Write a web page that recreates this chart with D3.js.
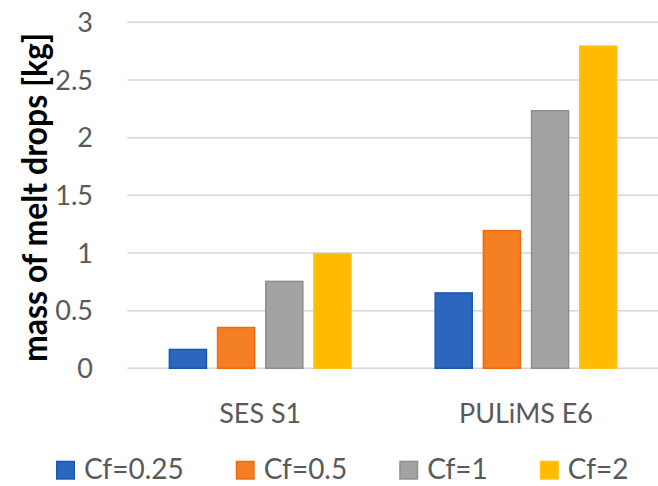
<!DOCTYPE html>
<html>
<head>
<meta charset="utf-8">
<script src="https://cdn.jsdelivr.net/npm/d3@7"></script>
<style>
  html, body { margin: 0; padding: 0; background: #fff; }
  svg { display: block; }
  text { font-family: Lato, "Open Sans", sans-serif; }
</style>
</head>
<body>
<svg id="chart" width="658" height="486"></svg>
<script>
// ---- data ----
const categories = ["SES S1", "PULiMS E6"];
const seriesNames = ["Cf=0.25", "Cf=0.5", "Cf=1", "Cf=2"];
const valuesCf025 = [0.17, 0.66];
const valuesCf05  = [0.36, 1.20];
const valuesCf1   = [0.76, 2.24];
const valuesCf2   = [1.00, 2.80];
const yTicks = [0, 0.5, 1, 1.5, 2, 2.5, 3];
const yTickLabels = ["0", "0.5", "1", "1.5", "2", "2.5", "3"];
const yTitle = "mass of melt drops [kg]";

const seriesValues = [valuesCf025, valuesCf05, valuesCf1, valuesCf2];
const fills   = ["#2B67BF", "#F47E22", "#A3A3A3", "#FFBB00"];
const strokes = ["#1A56B3", "#EE6A10", "#8E8E8E", "#FFC21A"];

// ---- layout ----
const svg = d3.select("#chart");
const plotLeft = 127.3, plotRight = 658.9, plotTop = 22.3, plotBottom = 368.3;

const y = d3.scaleLinear().domain([0, 3]).range([plotBottom, plotTop]);
const x0 = d3.scaleBand().domain(categories).range([plotLeft, plotRight])
  .paddingInner(0.311).paddingOuter(0.1555);
const x1 = d3.scaleBand().domain(seriesNames).range([0, x0.bandwidth()]).paddingInner(0.2);

// gridlines
svg.append("g").selectAll("line").data(yTicks).join("line")
  .attr("x1", plotLeft).attr("x2", plotRight)
  .attr("y1", d => y(d)).attr("y2", d => y(d))
  .attr("stroke", "#D6D6D6").attr("stroke-width", 1.5);

// y tick labels
svg.append("g").selectAll("text").data(yTicks).join("text")
  .attr("x", 93).attr("y", d => y(d)).attr("dy", "0.36em")
  .attr("text-anchor", "end")
  .attr("font-size", 27).attr("fill", "#595959")
  .text((d, i) => yTickLabels[i]);

// bars
const barData = [];
categories.forEach((c, ci) => {
  seriesNames.forEach((s, si) => {
    barData.push({ cat: c, ser: s, si: si, v: seriesValues[si][ci] });
  });
});
svg.append("g").selectAll("rect").data(barData).join("rect")
  .attr("x", d => x0(d.cat) + x1(d.ser) + 0.75)
  .attr("width", x1.bandwidth() - 1.5)
  .attr("y", d => y(d.v) + 0.75)
  .attr("height", d => y(0) - y(d.v) - 0.75)
  .attr("fill", d => fills[d.si])
  .attr("stroke", d => strokes[d.si])
  .attr("stroke-width", 1.5);

// category labels
svg.append("g").selectAll("text").data(categories).join("text")
  .attr("x", d => x0(d) + x0.bandwidth() / 2)
  .attr("y", 422.7)
  .attr("text-anchor", "middle")
  .attr("font-size", 27).attr("fill", "#595959")
  .text(d => d);

// y axis title
svg.append("text")
  .attr("transform", "translate(47,197.5) rotate(-90)")
  .attr("text-anchor", "middle")
  .attr("font-size", 34).attr("font-weight", "bold").attr("fill", "#000")
  .attr("textLength", 329).attr("lengthAdjust", "spacingAndGlyphs")
  .text(yTitle);

// legend
const legend = svg.append("g");
let lx = 56;
seriesNames.forEach((s, i) => {
  legend.append("rect")
    .attr("x", lx + 0.75).attr("y", 460.7 + 0.75)
    .attr("width", 17.5).attr("height", 17.5)
    .attr("fill", fills[i]).attr("stroke", strokes[i]).attr("stroke-width", 1.5);
  const t = legend.append("text")
    .attr("x", lx + 28).attr("y", 478.7)
    .attr("font-size", 28).attr("fill", "#595959")
    .text(s);
  const w = t.node().getComputedTextLength();
  lx += 28 + w + 52;
});
</script>
</body>
</html>
